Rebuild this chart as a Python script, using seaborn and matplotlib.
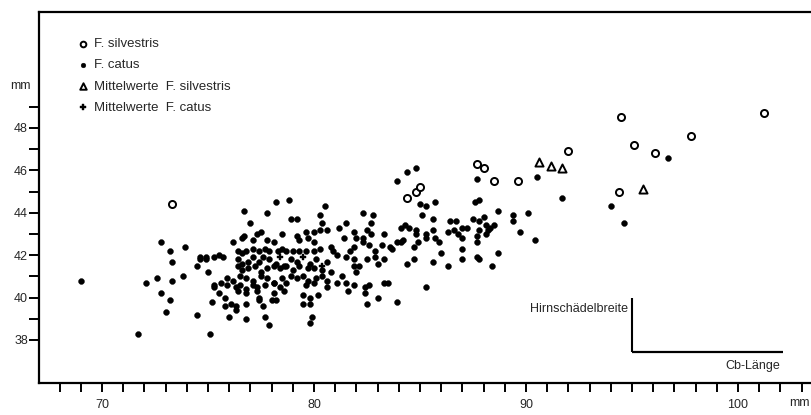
import matplotlib
matplotlib.use("Agg")
import matplotlib.pyplot as plt
import seaborn as sns
import pandas as pd
import numpy as np
from matplotlib.ticker import MultipleLocator, FixedLocator

# ---------------- data (Cb-Länge [mm], Hirnschädelbreite [mm]) ----------------
catus_x = [69.0, 72.8, 73.2, 73.9, 73.3, 72.6, 72.1, 73.3, 73.8, 72.8, 73.2, 73.0, 71.7,
           83.9, 78.2, 78.8, 76.7, 77.8, 80.5, 80.3, 82.3, 82.8, 78.9, 79.2, 77.0, 80.4, 81.2,
           81.5, 82.7, 74.5, 75.1, 76.0, 76.8, 77.7, 77.9, 79.8, 79.9, 74.5, 74.6, 74.9, 75.0,
           75.2, 75.3, 75.5, 75.8, 75.8, 76.1, 76.3, 76.3, 76.8, 76.2, 76.6, 76.7, 77.3, 77.5,
           77.1, 77.8, 78.1, 78.5, 79.2, 79.6, 80.0, 80.3, 80.6, 79.3, 79.7, 80.0, 81.4, 81.9,
           82.0, 82.3, 82.5, 82.7, 83.3, 83.6, 83.9, 83.7, 76.4, 76.6, 76.8, 77.1, 77.4, 77.7,
           77.9, 78.3, 78.5, 78.7, 79.0, 79.3, 79.6, 80.0, 80.3, 80.8, 80.9, 81.1, 81.7, 81.9,
           82.3, 82.6, 82.9, 83.2, 74.6, 74.9, 75.3, 75.5, 75.7, 76.4, 76.6, 76.9, 77.1, 77.4,
           77.6, 77.9, 78.2, 78.6, 78.9, 79.2, 79.8, 80.1, 80.6, 81.5, 81.9, 82.1,
           82.5, 82.9, 83.0, 83.3, 76.4, 76.6, 76.9, 77.2, 77.5, 77.8, 78.1, 78.4, 78.7, 79.0,
           79.3, 79.7, 80.0, 80.4, 80.8, 81.9, 82.0, 75.9, 76.2, 76.5, 76.8, 77.1, 77.5, 77.8,
           78.1, 78.5, 78.9, 79.2, 79.5, 79.7, 80.1, 80.4, 80.6, 75.3, 75.6, 75.9, 76.3, 76.5,
           76.8, 77.1, 77.3, 77.7, 78.1, 78.4, 78.7, 79.6, 80.0, 80.6, 81.1, 81.3, 81.5, 81.9,
           82.4, 82.6, 83.3, 83.5, 76.4, 76.8, 77.3, 77.4, 78.1, 78.6, 79.5, 79.8, 80.2, 81.6,
           82.4, 83.0, 83.9, 82.5, 78.0, 78.2, 77.4, 79.5, 79.8, 77.6,
           84.8, 84.4, 87.7, 87.8, 87.6, 90.5, 91.7, 94.0, 94.6, 96.7, 88.7, 89.4, 89.4, 90.1,
           89.7, 90.4, 88.7, 88.4, 87.7, 87.0, 87.0, 86.3, 85.6, 84.7, 84.4, 86.0, 85.3, 85.0,
           85.3, 85.7, 85.1, 85.6, 84.3, 84.1, 84.5, 84.8, 84.8, 85.3, 85.6, 85.7, 85.9, 86.4,
           86.7, 86.3, 86.6, 86.8, 87.0, 87.0, 87.2, 87.5, 87.8, 88.0, 88.1, 87.8, 88.2, 88.3,
           87.7, 87.8, 84.9, 84.7, 84.2, 84.1, 85.3, 88.5, 88.1, 87.7]
catus_y = [40.8, 42.6, 42.2, 42.4, 41.7, 40.9, 40.7, 40.8, 41.0, 40.2, 39.9, 39.3, 38.3,
           45.5, 44.5, 44.6, 44.1, 44.0, 44.3, 43.9, 44.0, 43.9, 43.7, 43.7, 43.5, 43.5, 43.3,
           43.5, 43.5, 39.2, 38.3, 39.1, 39.0, 39.1, 38.7, 38.8, 39.1, 41.5, 41.9, 41.8, 41.2,
           39.8, 40.5, 40.2, 40.0, 39.6, 39.7, 39.6, 39.4, 39.7, 42.6, 42.8, 42.9, 43.0, 43.1,
           42.7, 42.7, 42.6, 43.0, 42.9, 43.1, 43.1, 43.2, 43.2, 42.7, 42.8, 42.6, 42.8, 43.1,
           42.8, 42.8, 43.2, 43.0, 43.0, 42.4, 42.6, 42.3, 42.2, 42.1, 42.2, 42.3, 42.2, 42.3,
           42.2, 42.2, 42.3, 42.2, 42.2, 42.2, 42.2, 42.2, 42.3, 42.4, 42.2, 42.0, 42.2, 42.4,
           42.6, 42.5, 42.2, 42.5, 41.8, 41.9, 41.9, 42.0, 41.9, 41.8, 41.6, 41.7, 41.9, 41.7,
           41.9, 41.8, 41.6, 41.5, 41.8, 41.7, 41.6, 41.8, 41.7, 41.9, 41.8, 41.5,
           41.8, 41.9, 41.6, 41.8, 41.5, 41.3, 41.4, 41.5, 41.2, 41.4, 41.5, 41.4, 41.5, 41.3,
           41.5, 41.4, 41.4, 41.3, 41.2, 41.5, 41.2, 40.9, 40.8, 41.0, 40.9, 40.8, 41.0, 40.9,
           40.7, 40.9, 41.0, 40.9, 41.0, 40.8, 40.9, 41.0, 40.8, 40.6, 40.7, 40.6, 40.5, 40.6,
           40.4, 40.6, 40.5, 40.6, 40.7, 40.5, 40.7, 40.6, 40.7, 40.5, 40.7, 41.0, 40.7, 40.6,
           40.5, 40.6, 40.7, 40.7, 40.3, 40.2, 40.3, 40.0, 40.2, 40.3, 40.1, 40.0, 40.1, 40.3,
           40.2, 40.0, 39.8, 39.7, 39.9, 39.9, 39.9, 39.7, 39.7, 39.6,
           46.1, 45.9, 45.6, 44.6, 44.5, 45.7, 44.7, 44.3, 43.5, 46.6, 44.1, 43.9, 43.6, 44.0,
           43.1, 42.7, 42.1, 41.5, 41.9, 41.8, 42.3, 41.5, 41.7, 41.8, 41.6, 42.1, 40.5, 44.4,
           44.3, 44.5, 43.9, 43.7, 43.4, 43.3, 43.3, 43.0, 43.2, 43.0, 43.2, 42.8, 42.6, 43.6,
           43.6, 43.1, 43.2, 43.0, 42.8, 43.3, 43.3, 43.7, 43.6, 43.8, 43.4, 43.2, 43.2, 43.3,
           42.9, 41.8, 42.6, 42.4, 42.7, 42.6, 42.8, 43.4, 43.0, 42.6]

silv_x = [73.3, 87.7, 88.0, 88.5, 89.6, 92.0, 94.5, 95.1, 96.1, 97.8, 101.2, 94.4, 84.4, 84.8, 85.0]
silv_y = [44.4, 46.3, 46.1, 45.5, 45.5, 46.9, 48.5, 47.2, 46.8, 47.6, 48.7, 45.0, 44.7, 45.0, 45.2]

mean_silv_x = [90.6, 91.2, 91.7, 95.5]
mean_silv_y = [46.4, 46.2, 46.1, 45.1]

mean_catus_x = [78.4, 79.5, 80.4]
mean_catus_y = [41.9, 41.9, 41.5]

labels = ["F. silvestris", "F. catus", "Mittelwerte  F. silvestris", "Mittelwerte  F. catus"]
x_major = [70, 80, 90, 100]
y_major = [38, 40, 42, 44, 46, 48]

# ---------------- style ----------------
sns.set_style("white")
plt.rcParams["font.family"] = ["Liberation Sans Narrow", "Liberation Sans", "DejaVu Sans"]
plt.rcParams["font.size"] = 9.5

fig = plt.figure(figsize=(8.11, 4.15), dpi=100)
ax = fig.add_axes([39 / 811, 32 / 415, 772 / 811, 371 / 415])

df_c = pd.DataFrame({"x": catus_x, "y": catus_y})
df_s = pd.DataFrame({"x": silv_x, "y": silv_y})
df_ms = pd.DataFrame({"x": mean_silv_x, "y": mean_silv_y})
df_mc = pd.DataFrame({"x": mean_catus_x, "y": mean_catus_y})

sns.scatterplot(data=df_s, x="x", y="y", ax=ax, marker="o", s=26, facecolor="white",
                edgecolor="black", linewidth=1.4, label=labels[0], zorder=3)
sns.scatterplot(data=df_c, x="x", y="y", ax=ax, marker="o", s=18, color="black",
                edgecolor="black", linewidth=0.3, label=labels[1], zorder=3)
sns.scatterplot(data=df_ms, x="x", y="y", ax=ax, marker="^", s=34, facecolor="white",
                edgecolor="black", linewidth=1.4, label=labels[2], zorder=3)
sns.scatterplot(data=df_mc, x="x", y="y", ax=ax, marker="P", s=24, color="black",
                edgecolor="black", linewidth=0.3, label=labels[3], zorder=3)

ax.set_xlim(67.03, 103.44)
ax.set_ylim(35.97, 53.47)
ax.set_xlabel("")
ax.set_ylabel("")

# spines
for side in ["left", "bottom", "top"]:
    ax.spines[side].set_visible(True)
    ax.spines[side].set_color("black")
    ax.spines[side].set_linewidth(1.6)
ax.spines["right"].set_visible(False)

# ticks
ax.xaxis.set_major_locator(FixedLocator(x_major))
ax.xaxis.set_minor_locator(MultipleLocator(1))
ax.yaxis.set_major_locator(FixedLocator(y_major))
ax.yaxis.set_minor_locator(FixedLocator([39, 41, 43, 45, 47, 49]))
ax.tick_params(axis="x", which="both", direction="out", length=6.5, width=1.4,
               bottom=True, top=False, color="black")
ax.tick_params(axis="x", which="major", pad=5, labelsize=9)
ax.tick_params(axis="y", which="both", direction="out", length=7, width=1.4,
               left=True, right=False, color="black")
ax.tick_params(axis="y", which="major", pad=1, labelsize=9)
ax.set_xticklabels([str(v) for v in x_major])
ax.set_yticklabels([str(v) for v in y_major])
ax.grid(False)

# unit labels
ax.text(-0.024, 50.0, "mm", transform=ax.get_yaxis_transform(), ha="center", va="center",
        fontsize=9)
ax.text(102.9, -0.055, "mm", transform=ax.get_xaxis_transform(), ha="center", va="center",
        fontsize=9)

# small axis key (Hirnschädelbreite / Cb-Länge)
ax.plot([95.0, 95.0], [40.0, 37.43], color="black", lw=1.5, solid_capstyle="butt")
ax.plot([95.0, 102.1], [37.43, 37.43], color="black", lw=1.6, solid_capstyle="butt")
ax.text(94.8, 39.46, "Hirnschädelbreite", ha="right", va="center", fontsize=9)
ax.text(102.0, 36.77, "Cb-Länge", ha="right", va="center", fontsize=9)

# legend
leg = ax.legend(loc="upper left", bbox_to_anchor=(0.045, 0.944), frameon=False,
                handlelength=0.6, handletextpad=0.5, labelspacing=0.68,
                borderaxespad=0, fontsize=9.5, markerscale=0.8)

fig.savefig("out.png", dpi=100)
